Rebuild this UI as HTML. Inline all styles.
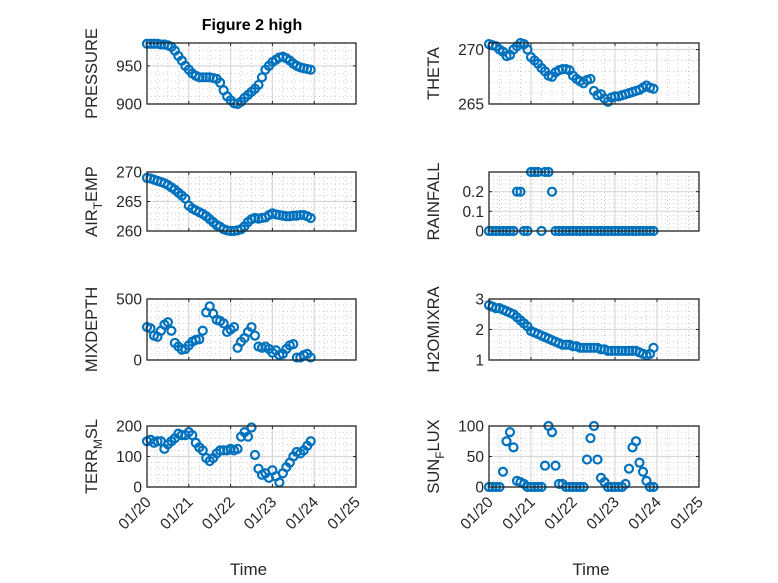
<!DOCTYPE html>
<html><head><meta charset="utf-8"><style>
body{margin:0;background:#fff}
svg{display:block;font-family:"Liberation Sans","DejaVu Sans",sans-serif}
</style></head><body>
<svg id="fig" width="778" height="583" viewBox="0 0 778 583" xmlns="http://www.w3.org/2000/svg">
<rect width="778" height="583" fill="#fff"/>
<text x="252" y="30" text-anchor="middle" font-size="16" font-weight="bold" fill="#000">Figure 2 high</text>
</svg>
<script>
// Time in days since 01/20 (2-hour samples)
const timeDays = [];
for (let i = 0; i < 48; i++) timeDays.push(i / 12);
const xTickLabels = ["01/20","01/21","01/22","01/23","01/24","01/25"];
const pressure = [979,979,979,979,978,978,977,975,970,963,957,950,945,940,937,935,935,935,935,934,933,928,918,910,905,901,900,903,908,912,916,920,925,935,945,950,955,958,961,962,960,957,953,950,948,947,946,945];
const theta = [270.5,270.4,270.3,270.0,269.8,269.4,269.5,270.0,270.3,270.6,270.5,270.0,269.3,269.0,268.7,268.3,268.0,267.6,267.5,267.9,268.1,268.2,268.2,268.1,267.6,267.3,267.1,266.9,267.2,267.3,266.2,265.8,265.9,265.5,265.2,265.6,265.7,265.7,265.8,265.9,266.0,266.1,266.2,266.3,266.5,266.7,266.5,266.4];
const airTemp = [269,268.9,268.7,268.5,268.3,268.1,267.8,267.4,267,266.5,266,265.5,264.3,263.8,263.5,263.2,262.9,262.5,262,261.5,261,260.7,260.3,260.1,260,260,260.1,260.3,260.8,261.5,262,262.2,262.1,262.2,262.3,262.7,263,262.8,262.7,262.6,262.5,262.5,262.6,262.6,262.7,262.7,262.5,262.2];
const rainfall = [0,0,0,0,0,0,0,0,0.2,0.2,0,0,0.3,0.3,0.3,0,0.3,0.3,0.2,0,0,0,0,0,0,0,0,0,0,0,0,0,0,0,0,0,0,0,0,0,0,0,0,0,0,0,0,0];
const mixDepth = [270,260,200,190,240,290,310,240,140,110,85,90,120,150,165,170,240,390,440,380,330,320,300,230,250,270,100,150,180,230,270,200,110,100,110,90,60,80,40,50,90,120,130,20,20,40,50,20];
const h2oMix = [2.8,2.75,2.7,2.7,2.65,2.6,2.55,2.5,2.4,2.3,2.2,2.1,1.95,1.9,1.85,1.8,1.75,1.7,1.65,1.6,1.55,1.5,1.5,1.5,1.45,1.45,1.4,1.4,1.4,1.4,1.4,1.4,1.35,1.35,1.3,1.3,1.3,1.3,1.3,1.3,1.3,1.3,1.3,1.25,1.2,1.15,1.2,1.4];
const terrMsl = [150,155,145,150,150,125,140,150,160,175,170,170,180,170,145,130,120,95,85,95,110,120,120,120,125,120,125,165,180,165,195,105,60,40,45,30,55,35,15,45,65,80,100,115,110,120,135,150];
const sunFlux = [0,0,0,0,25,75,90,65,10,8,5,0,0,0,0,0,35,100,90,35,5,5,0,0,0,0,0,0,45,80,100,45,15,8,0,0,0,0,0,5,30,65,75,40,25,10,0,0];

const NS = "http://www.w3.org/2000/svg";
const svg = document.getElementById("fig");
function mk(tag, attrs, parent) {
  const e = document.createElementNS(NS, tag);
  for (const k in attrs) e.setAttribute(k, attrs[k]);
  (parent || svg).appendChild(e);
  return e;
}
const cols = [{x0:147,x1:356},{x0:489,x1:699}];
const rows = [{y0:43,y1:104},{y0:172,y1:231},{y0:299,y1:360},{y0:426,y1:487}];
const panels = [
  {name:"pressure",label:["PRESSURE"],data:pressure,ymin:900,ymax:980,ticks:[900,950],minor:10,c:0,r:0},
  {name:"theta",label:["THETA"],data:theta,ymin:265,ymax:270.6,ticks:[265,270],minor:1,c:1,r:0},
  {name:"air-temp",label:["AIR","T","EMP"],data:airTemp,ymin:260,ymax:270,ticks:[260,265,270],minor:1,c:0,r:1},
  {name:"rainfall",label:["RAINFALL"],data:rainfall,ymin:0,ymax:0.3,ticks:[0,0.1,0.2],minor:0.02,c:1,r:1},
  {name:"mixdepth",label:["MIXDEPTH"],data:mixDepth,ymin:0,ymax:500,ticks:[0,500],minor:50,c:0,r:2},
  {name:"h2omixra",label:["H2OMIXRA"],data:h2oMix,ymin:1,ymax:3,ticks:[1,2,3],minor:0.2,c:1,r:2},
  {name:"terr-msl",label:["TERR","M","SL"],data:terrMsl,ymin:0,ymax:200,ticks:[0,100,200],minor:20,c:0,r:3},
  {name:"sun-flux",label:["SUN","F","LUX"],data:sunFlux,ymin:0,ymax:100,ticks:[0,50,100],minor:10,c:1,r:3}
];
panels.forEach(p => {
  const C = cols[p.c], R = rows[p.r];
  const g = mk("g", {});
  
  
  const xs = d => C.x0 + d / 5 * (C.x1 - C.x0);
  const ys = v => R.y1 - (v - p.ymin) / (p.ymax - p.ymin) * (R.y1 - R.y0);
  for (let d = 0.25; d < 5; d += 0.25) {
    if (Math.abs(d - Math.round(d)) < 1e-6) continue;
    mk("line", {x1:xs(d),x2:xs(d),y1:R.y0,y2:R.y1,stroke:"#c0c0c0","stroke-width":0.8,"stroke-dasharray":"1,3"}, g);
  }
  for (let v = p.ymin + p.minor; v < p.ymax - 1e-9; v += p.minor) {
    if (p.ticks.some(t => Math.abs(t - v) < 1e-6)) continue;
    mk("line", {x1:C.x0,x2:C.x1,y1:ys(v),y2:ys(v),stroke:"#c0c0c0","stroke-width":0.8,"stroke-dasharray":"1,3"}, g);
  }
  for (let d = 1; d < 5; d++) mk("line", {x1:xs(d),x2:xs(d),y1:R.y0,y2:R.y1,stroke:"#d8d8d8","stroke-width":1.2}, g);
  p.ticks.forEach(t => mk("line", {x1:C.x0,x2:C.x1,y1:ys(t),y2:ys(t),stroke:"#d8d8d8","stroke-width":1.2}, g));
  for (let d = 0; d <= 5; d++) {
    mk("line", {x1:xs(d),x2:xs(d),y1:R.y1,y2:R.y1-3,stroke:"#262626"}, g);
    mk("line", {x1:xs(d),x2:xs(d),y1:R.y0,y2:R.y0+3,stroke:"#262626"}, g);
  }
  p.ticks.forEach(t => {
    mk("line", {x1:C.x0,x2:C.x0+3,y1:ys(t),y2:ys(t),stroke:"#262626"}, g);
    mk("line", {x1:C.x1,x2:C.x1-3,y1:ys(t),y2:ys(t),stroke:"#262626"}, g);
    const tl = mk("text", {x:C.x0-5,y:ys(t)+5.5,"text-anchor":"end","font-size":15.5,fill:"#262626"}, g);
    tl.textContent = String(t);
    
    
  });
  p.data.forEach((v, i) => {
    const c = mk("circle", {cx:xs(timeDays[i]),cy:ys(v),r:4,fill:"none",stroke:"#0072BD","stroke-width":2.2}, g);
    
    
  });
  mk("rect", {x:C.x0,y:R.y0,width:C.x1-C.x0,height:R.y1-R.y0,fill:"none",stroke:"#262626","stroke-width":1.3}, g);
  const lx = p.c === 0 ? 97 : 439, ly = (R.y0 + R.y1) / 2;
  const yl = mk("text", {x:0,y:0,"text-anchor":"middle","font-size":16.5,fill:"#262626",transform:`translate(${lx},${ly}) rotate(-90)`}, g);
  
  
  if (p.label.length === 1) yl.textContent = p.label[0];
  else {
    const a = mk("tspan", {}, yl); a.textContent = p.label[0];
    const b = mk("tspan", {dy:5,"font-size":12}, yl); b.textContent = p.label[1];
    const c2 = mk("tspan", {dy:-5}, yl); c2.textContent = p.label[2];
  }
  if (p.r === 3) {
    xTickLabels.forEach((lab, d) => {
      const x = xs(d), y = R.y1 + 12;
      const t = mk("text", {x:0,y:0,"text-anchor":"end","font-size":15.5,fill:"#262626",transform:`translate(${x+5},${y+4}) rotate(-45)`}, g);
      t.textContent = lab;
      
      
    });
    const xt = mk("text", {x:(C.x0+C.x1)/2-3,y:575,"text-anchor":"middle","font-size":17,fill:"#262626"}, g);
    xt.textContent = "Time";
    
    
  }
});
</script>
</body></html>
